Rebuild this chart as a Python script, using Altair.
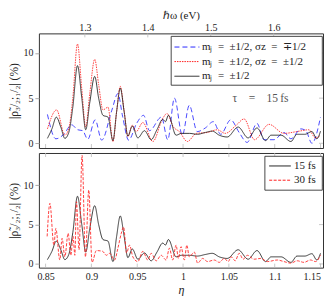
import altair as alt
import pandas as pd

# photon energy per unit eta (top axis of upper panel)
E_SCALE = 1.456

# ---- upper panel (tau = 15 fs) ----
eta_black = [0.8520, 0.8569, 0.8617, 0.8666, 0.8710, 0.8753, 0.8797, 0.8848, 0.8895, 0.8938,
             0.8982, 0.9036, 0.9079, 0.9126, 0.9181, 0.9235, 0.9275, 0.9315, 0.9357, 0.9398,
             0.9446, 0.9507, 0.9579, 0.9652, 0.9715, 0.9778, 0.9808, 0.9840, 0.9924, 0.9982,
             1.0068, 1.0156, 1.0243, 1.0319, 1.0395, 1.0482, 1.0601, 1.0710, 1.0807, 1.0900,
             1.0960, 1.1069, 1.1177, 1.1243, 1.1329, 1.1406, 1.1460, 1.1500]
rho_black = [0.55, 1.6, 2.9, 1.8, 0.55, 1.2, 4.0, 8.6, 5.0, 1.5,
             4.5, 7.4, 5.0, 3.1, 2.9, 0.3, 3.5, 6.1, 3.5, 0.8,
             1.9, 0.6, 1.4, 0.4, 1.5, 2.65, 2.4, 3.1, 0.9, 1.1,
             1.1, 1.0, 1.2, 1.35, 0.9, 0.7, 1.8, 0.6, 1.7, 0.3,
             0.9, 0.9, 0.2, 1.0, 1.0, 1.3, 0.5, 1.35]

eta_blue = [0.8520, 0.8612, 0.8699, 0.8783, 0.8851, 0.8905, 0.8960, 0.9041, 0.9112, 0.9221,
            0.9289, 0.9340, 0.9406, 0.9493, 0.9569, 0.9634, 0.9764, 0.9833, 0.9906, 0.9992,
            1.0068, 1.0155, 1.0243, 1.0330, 1.0411, 1.0520, 1.0612, 1.0699, 1.0807, 1.0884,
            1.0992, 1.1101, 1.1177, 1.1286, 1.1340, 1.1406, 1.1500]
rho_blue = [3.2, 0.5, 1.0, 2.05, 1.5, 1.4, 0.45, 2.6, 0.35, 3.6,
            5.5, 3.0, 0.35, 2.2, 3.1, 1.4, 2.9, 0.4, 5.0, 0.9,
            4.2, 1.3, 1.7, 2.4, 1.0, 2.6, 1.2, 0.1, 2.2, 0.4,
            0.4, 1.2, 0.5, 1.6, 1.4, 0.0, 2.9]

eta_red = [0.8520, 0.8620, 0.8710, 0.8753, 0.8797, 0.8848, 0.8895, 0.8938, 0.8982, 0.9036,
           0.9079, 0.9126, 0.9181, 0.9235, 0.9275, 0.9315, 0.9357, 0.9398, 0.9446, 0.9489,
           0.9561, 0.9670, 0.9778, 0.9824, 0.9895, 0.9960, 1.0047, 1.0145, 1.0264, 1.0373,
           1.0460, 1.0580, 1.0666, 1.0780, 1.0938, 1.1101, 1.1243, 1.1373, 1.1444, 1.1500]
rho_red = [1.6, 3.7, 0.9, 1.6, 5.0, 11.0, 6.0, 1.8, 5.5, 9.3,
           6.5, 3.7, 4.0, 0.2, 3.5, 6.3, 3.6, 0.75, 2.0, 1.3,
           2.3, 0.2, 2.75, 3.3, 1.8, 1.3, 0.2, 1.1, 1.2, 1.5,
           1.1, 2.0, 2.7, 0.4, 2.1, 1.1, 1.3, 1.5, 0.6, 0.9]

# ---- lower panel (30 fs) ----
eta_30 = [0.8517, 0.8547, 0.8590, 0.8612, 0.8655, 0.8680, 0.8710, 0.8746, 0.8775, 0.8800,
          0.8819, 0.8837, 0.8865, 0.8898, 0.8935, 0.8971, 0.9007, 0.9054, 0.9123, 0.9163,
          0.9199, 0.9253, 0.9289, 0.9326, 0.9351, 0.9384, 0.9416, 0.9452, 0.9507, 0.9561,
          0.9615, 0.9652, 0.9707, 0.9761, 0.9815, 0.9851, 0.9887, 0.9924, 0.9949, 0.9978,
          1.0014, 1.0041, 1.0068, 1.0123, 1.0159, 1.0213, 1.0268, 1.0340, 1.0395, 1.0449,
          1.0493, 1.0525, 1.0569, 1.0612, 1.0656, 1.0702, 1.0775, 1.0848, 1.0920, 1.1028,
          1.1101, 1.1174, 1.1246, 1.1319, 1.1391, 1.1446, 1.1500]
rho_30 = [3.5, 7.7, 2.4, 4.5, 0.5, 3.25, 0.9, 3.9, 1.1, 3.5,
          1.1, 7.9, 1.8, 13.8, 0.9, 9.4, 0.2, 1.7, 1.6, 1.1,
          1.35, 0.5, 2.0, 3.9, 4.7, 1.4, 2.4, 0.9, 0.3, 1.6,
          0.5, 1.35, 0.4, 1.1, 0.5, 2.0, 0.5, 2.4, 0.7, 2.2,
          0.5, 2.4, 0.9, 1.5, 0.1, 0.7, 0.3, 0.5, 0.2, 0.7,
          0.3, 0.9, 0.4, 1.35, 0.6, 1.1, 0.6, 0.7, 0.3, 0.5,
          0.3, 0.1, 0.4, 0.2, 0.5, 0.3, 1.1]

top_series = ["m\u2c7c\u2002=\u2002±1/2,  σz\u2002=\u2002∓1/2",
              "m\u2c7c\u2002=\u2002±1/2,  σz\u2002=\u2002±1/2",
              "m\u2c7c\u2002=\u2002±1/2"]
top_colors = ["#2a2aff", "#ff2020", "#1a1a1a"]
top_dashes = [[5, 3], [1.5, 1], [1, 0]]
bot_series = ["15 fs", "30 fs"]
bot_colors = ["#1a1a1a", "#ff2020"]
bot_dashes = [[1, 0], [3, 1.5]]

x_ticks = [0.85, 0.9, 0.95, 1.0, 1.05, 1.1, 1.15]
ev_ticks = [1.3, 1.4, 1.5, 1.6]
y_ticks = [0, 5, 10]
tau_label = ["τ\u2003=\u200315\u2009fs"]
tau_pos = [1.0846, 4.9]

FONT = "Liberation Serif"
W, H = 285, 115

top_df = pd.concat([
    pd.DataFrame({"eta": eta_blue, "rho": rho_blue, "series": top_series[0]}),
    pd.DataFrame({"eta": eta_red, "rho": rho_red, "series": top_series[1]}),
    pd.DataFrame({"eta": eta_black, "rho": rho_black, "series": top_series[2]}),
])
bot_df = pd.concat([
    pd.DataFrame({"eta": eta_black, "rho": rho_black, "series": bot_series[0]}),
    pd.DataFrame({"eta": eta_30, "rho": rho_30, "series": bot_series[1]}),
])

ev_pos = [e / E_SCALE for e in ev_ticks]
x_scale = alt.Scale(domain=[0.8427, 1.1527], nice=False, zero=False)
top_y = alt.Scale(domain=[-0.52, 12.17], nice=False, zero=False)
bot_y = alt.Scale(domain=[-0.47, 14.1], nice=False, zero=False)

y_title = "|ρ̃₃/₂;₁/₂| (%)"
dummy = pd.DataFrame({"k": [0]})


def y_axis():
    return alt.Axis(values=y_ticks, title=y_title, grid=False, domain=False,
                    tickSize=4, tickColor="#aaa", labelFontSize=10, titleFontSize=11.5,
                    titleFontWeight="normal", labelPadding=2, minExtent=18,
                    maxExtent=18, titlePadding=1)


def manual_legend(labels, colors, dashes, box, rows, sym, tx):
    layers = [alt.Chart(dummy).mark_rect(fill="white", stroke="#333", strokeWidth=0.9).encode(
        x=alt.value(box[0]), x2=alt.value(box[1]), y=alt.value(box[2]), y2=alt.value(box[3]))]
    for lab, c, d, ry in zip(labels, colors, dashes, rows):
        layers.append(alt.Chart(dummy).mark_rule(color=c, strokeDash=d, strokeWidth=1.0).encode(
            x=alt.value(sym[0]), x2=alt.value(sym[1]), y=alt.value(ry)))
        layers.append(alt.Chart(dummy).mark_text(
            text=lab, align="left", baseline="middle", font=FONT, fontSize=11,
            color="#222").encode(x=alt.value(tx), y=alt.value(ry)))
    return layers


lines_top = alt.Chart(top_df).mark_line(interpolate="monotone", strokeWidth=0.85, clip=True).encode(
    x=alt.X("eta:Q", scale=x_scale,
            axis=alt.Axis(orient="top", values=ev_pos,
                          labelExpr=f"format(datum.value*{E_SCALE}, '.1f')",
                          title="ℏω (eV)", ticks=False, domain=False, grid=False,
                          labelPadding=1, titlePadding=1, labelFontSize=10,
                          minExtent=12, maxExtent=12,
                          titleFontSize=11, titleFontWeight="normal", labelFlush=False)),
    y=alt.Y("rho:Q", scale=top_y, axis=y_axis()),
    color=alt.Color("series:N", scale=alt.Scale(domain=top_series, range=top_colors),
                    legend=None),
    strokeDash=alt.StrokeDash("series:N", scale=alt.Scale(domain=top_series, range=top_dashes),
                              legend=None),
    detail="series:N",
)

tau_text = alt.Chart(pd.DataFrame({"eta": [tau_pos[0]], "rho": [tau_pos[1]],
                                   "t": tau_label})).mark_text(
    font=FONT, fontSize=11.5, color="#555", align="center", baseline="middle").encode(
    x="eta:Q", y="rho:Q", text="t:N")

ev_df = pd.DataFrame({"eta": ev_pos})
xt_df = pd.DataFrame({"eta": x_ticks})
yt_df = pd.DataFrame({"rho": y_ticks})


def tick_rules(df, y0, y1):
    return alt.Chart(df).mark_rule(color="#bbb", strokeWidth=0.8).encode(
        x="eta:Q", y=alt.value(y0), y2=alt.value(y1))


def right_ticks():
    return alt.Chart(yt_df).mark_rule(color="#bbb", strokeWidth=0.8).encode(
        y="rho:Q", x=alt.value(W), x2=alt.value(W - 4))


top = alt.layer(
    lines_top, tau_text, tick_rules(ev_df, 0, 4), tick_rules(xt_df, H - 4, H), right_ticks(),
    *manual_legend(top_series, top_colors, top_dashes, box=(132.7, 284.3, 3, 52),
                   rows=(13.7, 28.3, 43), sym=(136, 161), tx=163.5)
).properties(width=W, height=H)

lines_bot = alt.Chart(bot_df).mark_line(interpolate="monotone", strokeWidth=0.85, clip=True).encode(
    x=alt.X("eta:Q", scale=x_scale,
            axis=alt.Axis(values=x_ticks, format="~g", title="η", ticks=False, domain=False,
                          grid=False, labelPadding=4, titlePadding=3, labelFontSize=10,
                          minExtent=14, maxExtent=14,
                          titleFontSize=12, titleFontStyle="italic",
                          titleFontWeight="normal", labelFlush=3)),
    y=alt.Y("rho:Q", scale=bot_y, axis=y_axis()),
    color=alt.Color("series:N", scale=alt.Scale(domain=bot_series, range=bot_colors),
                    legend=None),
    strokeDash=alt.StrokeDash("series:N", scale=alt.Scale(domain=bot_series, range=bot_dashes),
                              legend=None),
    detail="series:N",
)

bottom = alt.layer(
    lines_bot, tick_rules(xt_df, 0, 4), tick_rules(xt_df, H - 4, H), right_ticks(),
    *manual_legend(bot_series, bot_colors, bot_dashes, box=(226.7, 284.3, 3.3, 37.3),
                   rows=(13, 27.3), sym=(231, 252.7), tx=256)
).properties(width=W, height=H)

chart = alt.vconcat(top, bottom, spacing=3).resolve_scale(
    color="independent", strokeDash="independent", y="independent"
).properties(padding=0).configure(font=FONT).configure_view(
    stroke="#333", strokeWidth=1
).configure_axis(labelColor="#222", titleColor="#222", labelFont=FONT, titleFont=FONT)

chart.save("out.html", embed_options={"renderer": "svg", "actions": False})
